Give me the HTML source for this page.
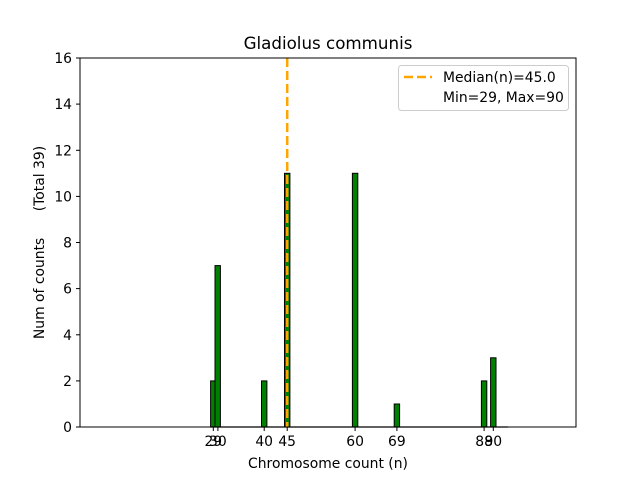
<!DOCTYPE html>
<html><head><style>body{margin:0;background:#fff}svg{display:block}text{font-family:"DejaVu Sans","Liberation Sans",sans-serif;fill:#000}</style></head>
<body>
<svg width="640" height="480" xmlns="http://www.w3.org/2000/svg">
<rect width="640" height="480" fill="#fff"/>
<g fill="#008000" stroke="#000" stroke-width="1">
<rect x="210.6" y="380.9" width="5.4" height="46.1"/>
<rect x="215" y="265.6" width="5.4" height="161.4"/>
<rect x="261.5" y="380.9" width="5.4" height="46.1"/>
<rect x="284.5" y="173.3" width="5.4" height="253.7"/>
<rect x="352.4" y="173.3" width="5.4" height="253.7"/>
<rect x="394.2" y="404" width="5.4" height="23"/>
<rect x="481.4" y="380.9" width="5.4" height="46.1"/>
<rect x="490.6" y="357.8" width="5.4" height="69.2"/>
</g>
<line x1="210" y1="427" x2="508" y2="427" stroke="#000" stroke-width="1.2"/>
<line x1="287.2" y1="58" x2="287.2" y2="427" stroke="#ffa500" stroke-width="2.5" stroke-dasharray="9,4"/>
<rect x="80" y="58" width="496" height="369" fill="none" stroke="#000" stroke-width="1"/>
<g stroke="#000" stroke-width="1">
<line x1="213.3" y1="427" x2="213.3" y2="431"/><line x1="217.9" y1="427" x2="217.9" y2="431"/>
<line x1="264.2" y1="427" x2="264.2" y2="431"/><line x1="287.2" y1="427" x2="287.2" y2="431"/>
<line x1="355.1" y1="427" x2="355.1" y2="431"/><line x1="396.9" y1="427" x2="396.9" y2="431"/>
<line x1="484.1" y1="427" x2="484.1" y2="431"/><line x1="493.3" y1="427" x2="493.3" y2="431"/>
<line x1="76" y1="427" x2="80" y2="427"/><line x1="76" y1="380.9" x2="80" y2="380.9"/>
<line x1="76" y1="334.8" x2="80" y2="334.8"/><line x1="76" y1="288.6" x2="80" y2="288.6"/>
<line x1="76" y1="242.5" x2="80" y2="242.5"/><line x1="76" y1="196.4" x2="80" y2="196.4"/>
<line x1="76" y1="150.3" x2="80" y2="150.3"/><line x1="76" y1="104.1" x2="80" y2="104.1"/>
<line x1="76" y1="58" x2="80" y2="58"/>
</g>
<g font-size="13.9" text-anchor="middle">
<text x="213.3" y="446">29</text><text x="217.9" y="446">30</text>
<text x="264.2" y="446">40</text><text x="287.2" y="446">45</text>
<text x="355.1" y="446">60</text><text x="396.9" y="446">69</text>
<text x="484.1" y="446">88</text><text x="493.3" y="446">90</text>
</g>
<g font-size="13.9" text-anchor="end">
<text x="72" y="432">0</text><text x="72" y="386">2</text><text x="72" y="340">4</text>
<text x="72" y="293.6">6</text><text x="72" y="247.5">8</text><text x="72" y="201.4">10</text>
<text x="72" y="155.3">12</text><text x="72" y="109.1">14</text><text x="72" y="63">16</text>
</g>
<text x="328" y="468" font-size="13.9" text-anchor="middle">Chromosome count (n)</text>
<text transform="translate(44,242.5) rotate(-90)" font-size="13.9" text-anchor="middle" xml:space="preserve">Num of counts      (Total 39)</text>
<text x="328" y="49" font-size="16.7" text-anchor="middle">Gladiolus communis</text>
<rect x="398.5" y="65.5" width="170" height="45" rx="3" fill="#fff" fill-opacity="0.8" stroke="#ccc"/>
<line x1="404" y1="77" x2="432" y2="77" stroke="#ffa500" stroke-width="2.5" stroke-dasharray="9,4"/>
<text x="443" y="82" font-size="13.9">Median(n)=45.0</text>
<text x="443" y="102" font-size="13.9">Min=29, Max=90</text>
</svg>
</body></html>
